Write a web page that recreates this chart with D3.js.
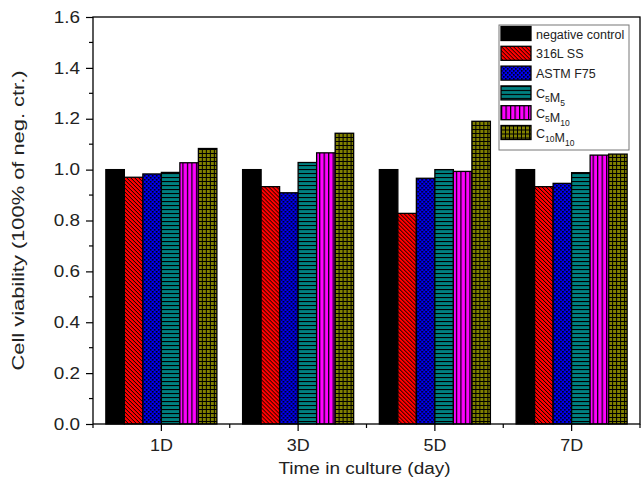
<!DOCTYPE html>
<html>
<head>
<meta charset="utf-8">
<script src="https://cdn.jsdelivr.net/npm/d3@7"></script>
<style>
  body { margin: 0; background: #fff; }
  svg { display: block; font-family: "Liberation Sans", Arial, sans-serif; }
</style>
</head>
<body>
<svg class="chart"></svg>
<script>
// Chart dimensions
var width = 644;
var height = 480;
var margin = {top: 17, right: 4, bottom: 56, left: 93};
var w = width - margin.left - margin.right;
var h = height - margin.top - margin.bottom;

// data
var days = ["1D", "3D", "5D", "7D"];
var series = ["negative control", "316L SS", "ASTM F75", "C_5M_5", "C_5M_10", "C_10M_10"];
var negControl = [1.000, 1.000, 1.000, 1.000];
var ss316L     = [0.970, 0.933, 0.828, 0.933];
var astmF75    = [0.983, 0.909, 0.966, 0.946];
var c5m5       = [0.989, 1.028, 1.000, 0.988];
var c5m10      = [1.027, 1.066, 0.993, 1.057];
var c10m10     = [1.083, 1.143, 1.190, 1.061];
var values = [negControl, ss316L, astmF75, c5m5, c5m10, c10m10];
var yTicks = [0.0, 0.2, 0.4, 0.6, 0.8, 1.0, 1.2, 1.4, 1.6];

var fills = ["url(#p0)", "url(#p1)", "url(#p2)", "url(#p3)", "url(#p4)", "url(#p5)"];

var svg = d3.select(".chart")
    .attr("width", width)
    .attr("height", height);

// fill patterns
var defs = svg.append("defs");
function pattern(id, size, bg) {
    var p = defs.append("pattern")
        .attr("id", id)
        .attr("patternUnits", "userSpaceOnUse")
        .attr("width", size)
        .attr("height", size);
    p.append("rect").attr("width", size).attr("height", size).attr("fill", bg);
    return p;
}
pattern("p0", 4, "#000");
// red, diagonal lines
var p1 = pattern("p1", 4, "#ff0000");
p1.append("path").attr("d", "M0,0 L4,4 M-1,3 L1,5 M3,-1 L5,1")
    .attr("stroke", "#000").attr("stroke-width", 1);
// blue, fine checker
var p2 = pattern("p2", 4, "#0000f0");
p2.append("rect").attr("x", 0).attr("y", 0).attr("width", 1.6).attr("height", 1.6).attr("fill", "#000");
p2.append("rect").attr("x", 2).attr("y", 2).attr("width", 1.6).attr("height", 1.6).attr("fill", "#000");
// teal, horizontal lines
var p3 = pattern("p3", 4, "#008080");
p3.append("rect").attr("x", 0).attr("y", 0).attr("width", 4).attr("height", 1.1).attr("fill", "#000");
// magenta, vertical lines
var p4 = pattern("p4", 4.5, "#ff00ff");
p4.append("rect").attr("x", 0).attr("y", 0).attr("width", 1.2).attr("height", 4.5).attr("fill", "#000");
// olive, grid
var p5 = pattern("p5", 4, "#808000");
p5.append("rect").attr("x", 0).attr("y", 0).attr("width", 4).attr("height", 1).attr("fill", "#000");
p5.append("rect").attr("x", 0).attr("y", 0).attr("width", 1).attr("height", 4).attr("fill", "#000");

var chart = svg.append("g")
    .attr("transform", "translate(" + margin.left + "," + margin.top + ")");

var x = d3.scaleBand()
    .domain(days)
    .range([0, w])
    .paddingInner(0.188)
    .paddingOuter(0.094);

var xSub = d3.scaleBand()
    .domain(series)
    .range([0, x.bandwidth()]);

var xLin = d3.scaleLinear()
    .domain([0.5, days.length + 0.5])
    .range([0, w]);

var y = d3.scaleLinear()
    .domain([0, 1.6])
    .range([h, 0]);

// widen text a little, the original glyphs are broad
function stretch(sel, k) {
    sel.each(function() {
        var len = this.getComputedTextLength();
        d3.select(this)
            .attr("textLength", len * k)
            .attr("lengthAdjust", "spacingAndGlyphs");
    });
}

// bars
var groups = chart.selectAll("g.day")
    .data(days)
    .enter().append("g")
    .attr("class", "day")
    .attr("transform", function(d) { return "translate(" + x(d) + ",0)"; });

groups.selectAll("rect")
    .data(function(d, i) {
        return series.map(function(s, j) { return {s: s, j: j, v: values[j][i]}; });
    })
    .enter().append("rect")
    .attr("x", function(d) { return xSub(d.s); })
    .attr("y", function(d) { return y(d.v); })
    .attr("width", xSub.bandwidth())
    .attr("height", function(d) { return h - y(d.v); })
    .attr("fill", function(d) { return fills[d.j]; })
    .attr("stroke", "#000")
    .attr("stroke-width", 1.3);

// frame
chart.append("rect")
    .attr("width", w)
    .attr("height", h)
    .attr("fill", "none")
    .attr("stroke", "#000")
    .attr("stroke-width", 1.3);

// y axis
var yAxis = d3.axisLeft(y)
    .tickValues(yTicks)
    .tickFormat(d3.format(".1f"))
    .tickSize(7)
    .tickPadding(6);
var gy = chart.append("g").call(yAxis);
gy.select(".domain").remove();
gy.selectAll("text").style("font-size", "16px").attr("fill", "#222");
gy.selectAll("line").attr("stroke-width", 1.2);
stretch(gy.selectAll("text"), 1.18);

// y minor ticks
chart.append("g").selectAll("line")
    .data(d3.range(0.1, 1.6, 0.2))
    .enter().append("line")
    .attr("x1", -4).attr("x2", 0)
    .attr("y1", function(d) { return y(d); })
    .attr("y2", function(d) { return y(d); })
    .attr("stroke", "#000")
    .attr("stroke-width", 1.2);

// x axis
var xAxis = d3.axisBottom(x)
    .tickSize(7)
    .tickPadding(9);
var gx = chart.append("g")
    .attr("transform", "translate(0," + h + ")")
    .call(xAxis);
gx.select(".domain").remove();
gx.selectAll("text").style("font-size", "16px").attr("fill", "#222");
gx.selectAll("line").attr("stroke-width", 1.2);
stretch(gx.selectAll("text"), 1.12);

// x minor ticks at group boundaries
chart.append("g").selectAll("line")
    .data(d3.range(0.5, days.length + 1, 1))
    .enter().append("line")
    .attr("x1", function(d) { return xLin(d); })
    .attr("x2", function(d) { return xLin(d); })
    .attr("y1", h).attr("y2", h + 4)
    .attr("stroke", "#000")
    .attr("stroke-width", 1.2);

// axis titles
chart.append("text")
    .attr("transform", "translate(" + (w / 2 - 2) + "," + (h + 50) + ")")
    .style("text-anchor", "middle")
    .style("font-size", "16px")
    .attr("fill", "#222")
    .attr("textLength", 172)
    .attr("lengthAdjust", "spacingAndGlyphs")
    .text("Time in culture (day)");

chart.append("text")
    .attr("transform", "translate(" + (-margin.left + 24) + "," + (h / 2) + ") rotate(-90)")
    .style("text-anchor", "middle")
    .style("font-size", "16px")
    .attr("fill", "#222")
    .attr("textLength", 300)
    .attr("lengthAdjust", "spacingAndGlyphs")
    .text("Cell viability (100% of neg. ctr.)");

// legend
var legend = svg.append("g")
    .attr("transform", "translate(499,25)");

legend.append("rect")
    .attr("width", 130)
    .attr("height", 125)
    .attr("fill", "#fff")
    .attr("stroke", "#777")
    .attr("stroke-width", 1);

var item = legend.selectAll("g.item")
    .data(series)
    .enter().append("g")
    .attr("class", "item")
    .attr("transform", function(d, i) { return "translate(2," + (1.5 + i * 19.8) + ")"; });

item.append("rect")
    .attr("width", 30)
    .attr("height", 14)
    .attr("fill", function(d, i) { return fills[i]; })
    .attr("stroke", "#000")
    .attr("stroke-width", 1.3);

// labels with subscripts written as X_n
item.append("text")
    .attr("x", 35)
    .attr("y", 12)
    .style("font-size", "12.5px")
    .attr("fill", "#222")
    .each(function(d) {
        var t = d3.select(this);
        var parts = d.split(/(_\d+)/).filter(function(s) { return s.length; });
        parts.forEach(function(part) {
            if (part[0] === "_") {
                t.append("tspan")
                    .attr("dy", 4)
                    .style("font-size", "8.5px")
                    .text(part.slice(1));
                t.append("tspan").attr("dy", -4).text("");
            } else {
                t.append("tspan").text(part);
            }
        });
    });
</script>
</body>
</html>
